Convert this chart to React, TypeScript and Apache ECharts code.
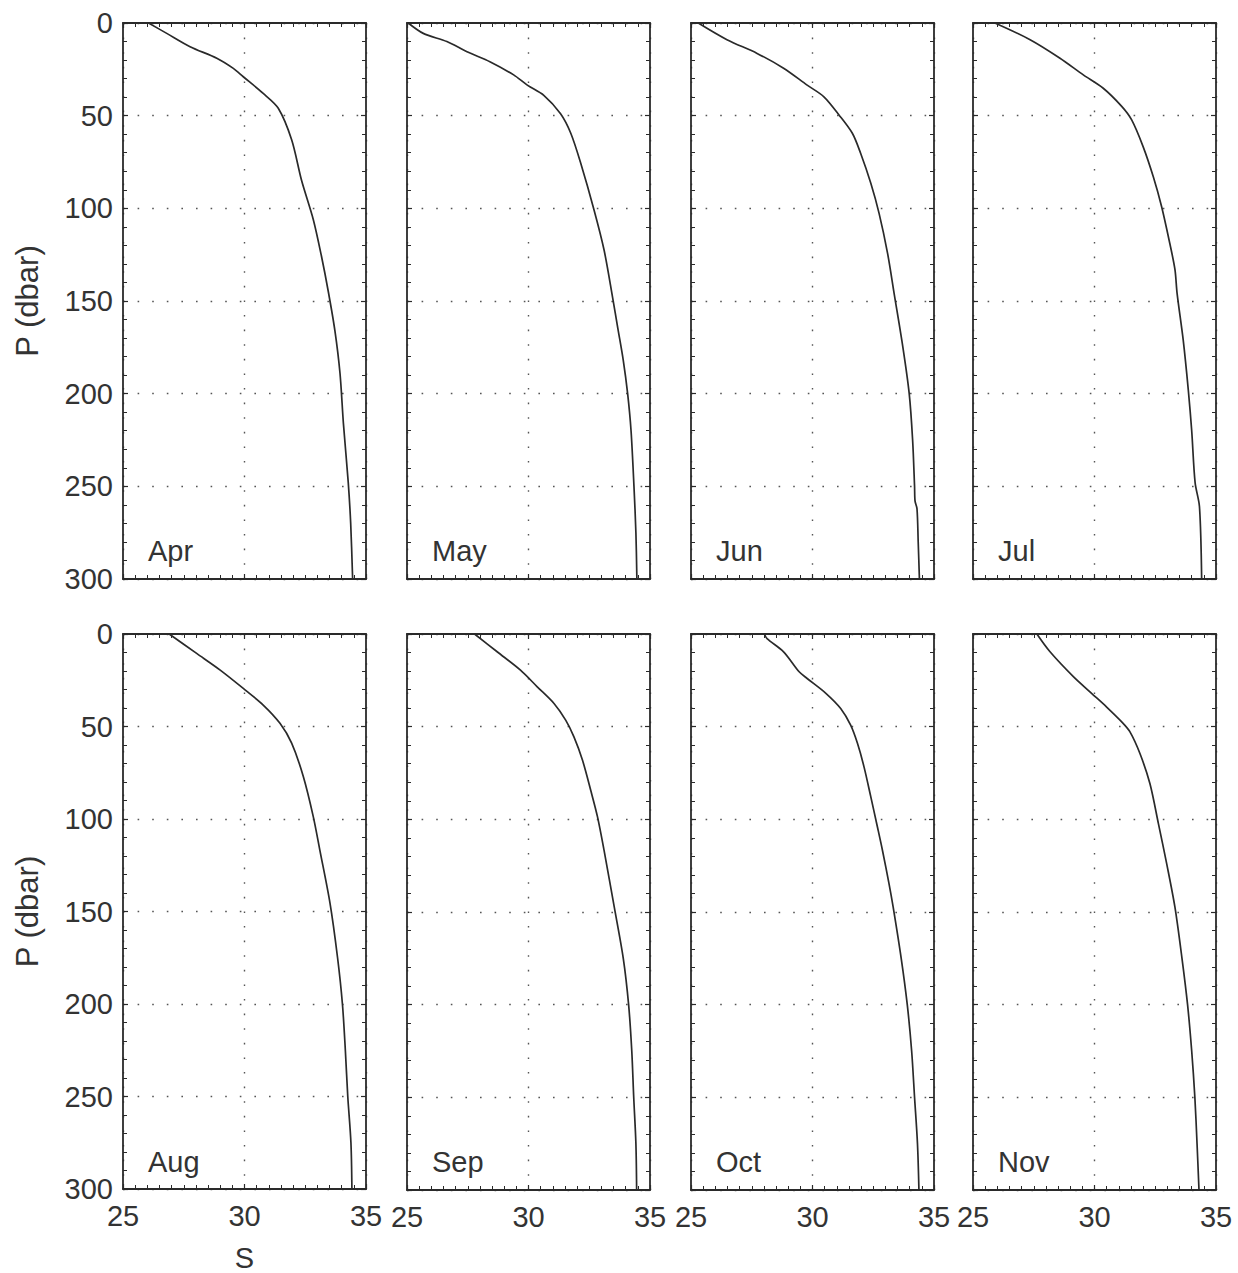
import React, { useEffect, useRef } from "react";
import * as echarts from "echarts";

const months = ["Apr", "May", "Jun", "Jul", "Aug", "Sep", "Oct", "Nov"];

const aprP = [0, 5.6, 12.8, 19, 24.5, 29, 38, 46, 63, 85, 106, 126, 145, 166, 189, 216, 248, 270, 300];
const aprS = [26.05, 26.8, 27.76, 28.86, 29.54, 29.95, 30.77, 31.39, 31.94, 32.35, 32.83, 33.17, 33.45, 33.72, 33.93, 34.07, 34.27, 34.37, 34.45];

const mayP = [0, 5.6, 10, 15.5, 21, 28, 33.5, 39, 49, 59.5, 75.7, 101, 122.5, 148, 165, 182, 200, 220, 250, 275, 300];
const mayS = [25.05, 25.67, 26.64, 27.47, 28.43, 29.39, 29.95, 30.63, 31.32, 31.74, 32.15, 32.7, 33.11, 33.46, 33.68, 33.9, 34.08, 34.22, 34.34, 34.42, 34.46];

const junP = [0, 9, 16.4, 24.4, 33.5, 39.8, 49.6, 59.5, 70.3, 86.5, 102.7, 124.3, 146, 175, 200, 225, 250, 258, 262, 280, 300];
const junS = [25.3, 26.48, 27.72, 28.81, 29.78, 30.47, 31.09, 31.64, 31.98, 32.4, 32.74, 33.09, 33.36, 33.72, 33.98, 34.12, 34.2, 34.22, 34.3, 34.35, 34.4];

const julP = [0, 9, 19, 28, 35.2, 45, 52.3, 66.7, 83, 99, 119, 133, 146, 171, 198, 220, 248, 261, 300];
const julS = [25.9, 27.35, 28.58, 29.54, 30.36, 31.12, 31.53, 32.0, 32.42, 32.76, 33.1, 33.31, 33.4, 33.65, 33.86, 34.0, 34.14, 34.32, 34.41];

const augP = [0, 10.5, 19.5, 29.4, 38.4, 48.3, 59, 77, 98.7, 116.8, 145.6, 175, 200, 225, 250, 275, 300];
const augS = [26.9, 28.03, 29.0, 29.95, 30.77, 31.46, 31.94, 32.42, 32.83, 33.1, 33.52, 33.83, 34.03, 34.15, 34.25, 34.38, 34.42];

const sepP = [0, 9.6, 19.5, 28.5, 37.5, 46.5, 55.5, 68, 84.3, 98.7, 116.8, 147.4, 175, 200, 225, 250, 275, 300];
const sepS = [27.78, 28.71, 29.67, 30.36, 31.05, 31.53, 31.87, 32.22, 32.56, 32.84, 33.11, 33.53, 33.9, 34.12, 34.25, 34.33, 34.42, 34.45];

const octP = [0, 2.5, 9.6, 20.4, 24, 32, 40.2, 49.2, 59, 71.7, 87.9, 104, 116.8, 134.8, 147.4, 175, 200, 225, 250, 275, 300];
const octS = [28.02, 28.13, 28.81, 29.45, 29.78, 30.55, 31.16, 31.57, 31.85, 32.12, 32.4, 32.67, 32.88, 33.15, 33.32, 33.65, 33.9, 34.08, 34.2, 34.32, 34.38];

const novP = [0, 9.6, 23, 32, 39.4, 47.4, 52.8, 64.5, 80.7, 102.3, 123.9, 147.4, 175, 200, 225, 250, 275, 300];
const novS = [27.63, 28.17, 29.13, 29.88, 30.5, 31.12, 31.46, 31.87, 32.28, 32.63, 32.97, 33.31, 33.6, 33.83, 34.0, 34.13, 34.22, 34.3];

const profilesP = [aprP, mayP, junP, julP, augP, sepP, octP, novP];
const profilesS = [aprS, mayS, junS, julS, augS, sepS, octS, novS];

const FONT = "'Liberation Sans', Arial, Helvetica, sans-serif";
const TXT = "#333";
const LINE = "#2a2a2a";

export default function App() {
  const ref = useRef<HTMLDivElement>(null);
  useEffect(() => {
    if (!ref.current) return;
    const chart = echarts.init(ref.current, undefined, { renderer: "svg" });
    const lefts = [123, 407, 691, 973];
    const tops = [23, 634];
    const W = 243;
    const H = 556;
    const grids: any[] = [];
    const xAxes: any[] = [];
    const yAxes: any[] = [];
    const series: any[] = [];
    const graphics: any[] = [];
    const axisLine = { show: true, onZero: false, lineStyle: { color: LINE, width: 1.8 } };
    const tick = { show: true, inside: true, length: 5, lineStyle: { color: LINE, width: 1.2 } };
    const dotted = { show: true, lineStyle: { color: "#555", type: [1.6, 13], width: 1.4 } };
    months.forEach((m, i) => {
      const r = Math.floor(i / 4);
      const c = i % 4;
      grids.push({ left: lefts[c], top: tops[r], width: W, height: H, containLabel: false });
      const showX = r === 1;
      const xb: any = {
        type: "value", gridIndex: i, min: 25, max: 35, interval: 5, position: "bottom",
        axisLine, axisTick: tick,
        minorTick: { show: true, splitNumber: 10, length: 4, lineStyle: { color: LINE, width: 1 } },
        splitLine: dotted,
        axisLabel: { show: showX, fontSize: 29, fontFamily: FONT, color: TXT, margin: 12 },
      };
      if (i === 4) {
        xb.name = "S";
        xb.nameLocation = "middle";
        xb.nameGap = 54;
        xb.nameTextStyle = { fontSize: 29, fontFamily: FONT, color: TXT };
      }
      xAxes.push(xb);
      xAxes.push({
        type: "value", gridIndex: i, min: 25, max: 35, interval: 5, position: "top",
        axisLine, axisTick: tick,
        minorTick: { show: true, splitNumber: 10, length: 4, lineStyle: { color: LINE, width: 1 } },
        splitLine: { show: false }, axisLabel: { show: false },
      });
      const yl: any = {
        type: "value", gridIndex: i, min: 0, max: 300, interval: 50, inverse: true, position: "left",
        axisLine, axisTick: tick,
        minorTick: { show: true, splitNumber: 5, length: 4, lineStyle: { color: LINE, width: 1 } },
        splitLine: dotted,
        axisLabel: { show: c === 0, fontSize: 29, fontFamily: FONT, color: TXT, margin: 10 },
      };
      if (c === 0) {
        yl.name = "P (dbar)";
        yl.nameLocation = "middle";
        yl.nameGap = 80;
        yl.nameRotate = 90;
        yl.nameTextStyle = { fontSize: 31, fontFamily: FONT, color: TXT };
      }
      yAxes.push(yl);
      yAxes.push({
        type: "value", gridIndex: i, min: 0, max: 300, interval: 50, inverse: true, position: "right",
        axisLine, axisTick: tick,
        minorTick: { show: true, splitNumber: 5, length: 4, lineStyle: { color: LINE, width: 1 } },
        splitLine: { show: false }, axisLabel: { show: false },
      });
      const P = profilesP[i];
      const S = profilesS[i];
      series.push({
        type: "line", name: m, xAxisIndex: i * 2, yAxisIndex: i * 2,
        data: P.map((p, k) => [S[k], p]),
        showSymbol: false, smooth: 0.3,
        lineStyle: { color: LINE, width: 1.7 },
      });
      graphics.push({
        type: "text", left: lefts[c] + 25, top: tops[r] + 513,
        style: { text: m, font: `29px ${FONT}`, fill: TXT },
      });
    });
    chart.setOption({
      animation: false,
      backgroundColor: "#fff",
      grid: grids,
      xAxis: xAxes,
      yAxis: yAxes,
      series,
      graphic: graphics,
    });
    return () => chart.dispose();
  }, []);
  return <div ref={ref} style={{ position: "absolute", left: 0, top: 0, width: 1238, height: 1273 }} />;
}
